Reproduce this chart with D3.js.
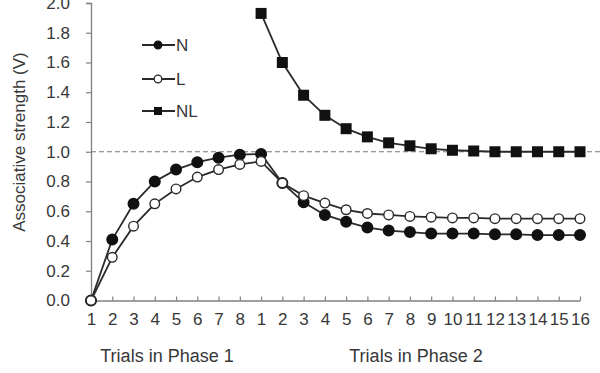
<!DOCTYPE html>
<html><head><meta charset="utf-8">
<script src="https://cdn.jsdelivr.net/npm/d3@7"></script>
<style>body{margin:0;background:#fff}svg{display:block}text{font-family:"Liberation Sans",Arial,sans-serif;fill:#383838}</style>
</head><body><svg id="c" width="600" height="373"></svg>
<script>
const categories = ["1","2","3","4","5","6","7","8","1","2","3","4","5","6","7","8","9","10","11","12","13","14","15","16"];
const seriesN  = [0,0.41,0.65,0.80,0.88,0.93,0.96,0.98,0.985,0.79,0.66,0.575,0.53,0.49,0.47,0.46,0.45,0.45,0.45,0.445,0.445,0.44,0.44,0.44];
const seriesL  = [0,0.29,0.50,0.65,0.75,0.83,0.88,0.915,0.935,0.79,0.705,0.655,0.61,0.585,0.575,0.565,0.56,0.555,0.555,0.55,0.55,0.55,0.55,0.55];
const seriesNL = [null,null,null,null,null,null,null,null,1.93,1.60,1.38,1.245,1.155,1.10,1.06,1.04,1.02,1.01,1.005,1.0,1.0,1.0,1.0,1.0];
const yTicks = [0,0.2,0.4,0.6,0.8,1.0,1.2,1.4,1.6,1.8,2.0];
const phaseLabels = ["Trials in Phase 1","Trials in Phase 2"];
const legendNames = ["N","L","NL"];
const yTitle = "Associative strength (V)";

const svg = d3.select("#c");
const idx = d3.range(categories.length);
const x = d3.scalePoint().domain(idx).range([91,580]);
const y = d3.scaleLinear().domain([0,2]).range([300.5,3]);

// reference line at 1.0
svg.append("line").attr("x1",91).attr("x2",600).attr("y1",y(1)).attr("y2",y(1))
  .attr("stroke","#7a7a7a").attr("stroke-width",1.2).attr("stroke-dasharray","5,3");

// y axis
const ya = svg.append("g").attr("transform","translate(91,0)")
  .call(d3.axisLeft(y).tickValues(yTicks).tickFormat(d3.format(".1f")).tickSize(5).tickPadding(16));
ya.select(".domain").attr("stroke","#808080").attr("stroke-width",1.3);
ya.selectAll(".tick line").attr("stroke","#808080").attr("stroke-width",1.2);
ya.selectAll("text").attr("font-size",17).attr("fill","#383838").style("font-family","'Liberation Sans',Arial,sans-serif");

// x axis
const xa = svg.append("g").attr("transform",`translate(0,${y(0)})`)
  .call(d3.axisBottom(x).tickFormat(i=>categories[i]).tickSize(-4).tickSizeOuter(0).tickPadding(12));
xa.select(".domain").attr("stroke","#808080").attr("stroke-width",1.3);
xa.selectAll(".tick line").attr("stroke","#808080").attr("stroke-width",1.2);
xa.selectAll("text").attr("font-size",17).attr("fill","#383838").style("font-family","'Liberation Sans',Arial,sans-serif");

svg.append("text").attr("x",167).attr("y",362).attr("text-anchor","middle").attr("font-size",18).text(phaseLabels[0]);
svg.append("text").attr("x",416).attr("y",362).attr("text-anchor","middle").attr("font-size",18).text(phaseLabels[1]);
svg.append("text").attr("transform","translate(25,142) rotate(-90)").attr("text-anchor","middle").attr("font-size",17).text(yTitle);

const line = d3.line().defined(d=>d!=null).x((d,i)=>x(i)).y(d=>y(d));
function drawSeries(data, kind){
  svg.append("path").datum(data).attr("d",line).attr("fill","none").attr("stroke","#2a2a2a").attr("stroke-width",1.8);
  const pts = idx.filter(i=>data[i]!=null);
  if(kind==="sq"){
    svg.selectAll(null).data(pts).enter().append("rect")
      .attr("x",i=>x(i)-5.5).attr("y",i=>y(data[i])-5.5).attr("width",11).attr("height",11).attr("fill","#111");
  } else {
    svg.selectAll(null).data(pts).enter().append("circle")
      .attr("cx",i=>x(i)).attr("cy",i=>y(data[i])).attr("r",kind==="open"?4.8:5.3)
      .attr("fill",kind==="open"?"#fff":"#111").attr("stroke",kind==="open"?"#2a2a2a":"#111").attr("stroke-width",1.4);
  }
}
drawSeries(seriesN,"filled");
drawSeries(seriesL,"open");
drawSeries(seriesNL,"sq");

// legend
const legY = [45,79,111], kinds=["filled","open","sq"];
legendNames.forEach((n,k)=>{
  const g = svg.append("g");
  g.append("line").attr("x1",142).attr("x2",175).attr("y1",legY[k]).attr("y2",legY[k]).attr("stroke","#2a2a2a").attr("stroke-width",1.8);
  if(kinds[k]==="sq") g.append("rect").attr("x",154).attr("y",legY[k]-4).attr("width",8).attr("height",8).attr("fill","#111");
  else g.append("circle").attr("cx",158).attr("cy",legY[k]).attr("r",3.8).attr("fill",kinds[k]==="open"?"#fff":"#111").attr("stroke",kinds[k]==="open"?"#2a2a2a":"#111").attr("stroke-width",1.3);
  g.append("text").attr("x",176).attr("y",legY[k]+6).attr("font-size",17).text(n);
});
</script></body></html>
